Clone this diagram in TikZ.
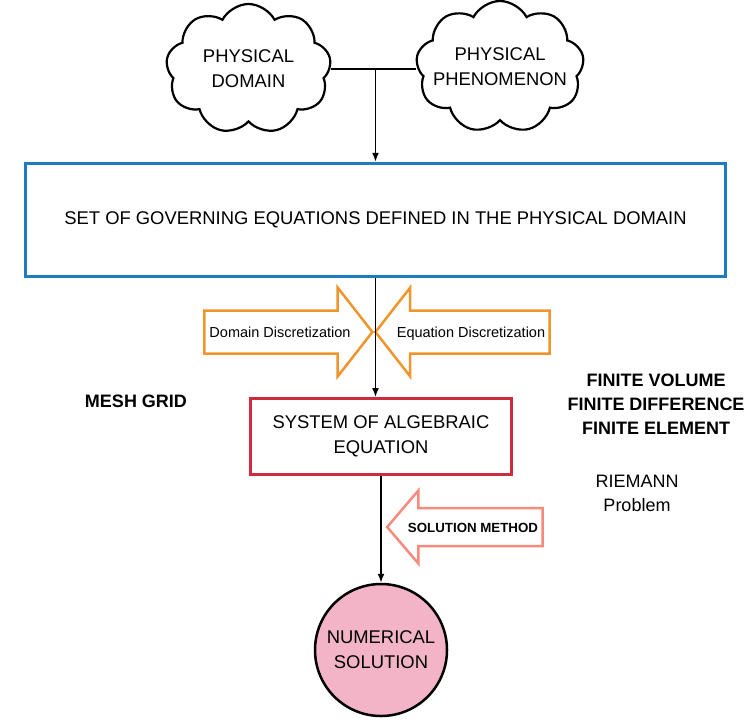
\documentclass[tikz,border=0pt]{standalone}
\usepackage{fontspec}
\setmainfont{Liberation Sans}
\usetikzlibrary{arrows.meta}
\usetikzlibrary{shapes.symbols,shapes.arrows}

\definecolor{govblue}{RGB}{31,124,192}
\definecolor{sysred}{RGB}{204,44,62}
\definecolor{discorange}{RGB}{240,148,44}
\definecolor{solpink}{RGB}{246,138,124}
\definecolor{numpink}{RGB}{243,180,199}

\begin{document}
\begin{tikzpicture}[x=1pt, y=-1pt,
  bigtext/.style={font=\fontsize{18.4}{25}\selectfont, align=center},
  idea/.style={cloud, draw, line width=2.2pt, cloud puffs=9, cloud puff arc=125, cloud ignores aspect, inner sep=0pt},
  stage/.style={draw, line width=3.5pt, bigtext},
  blockarrow/.style={single arrow, draw, line width=2.5pt, fill=white, single arrow tip angle=104, text height=10.5pt, text depth=0pt},
  flow/.style={line width=1.6pt, -{Latex[length=9pt, width=7pt]}}]
\useasboundingbox (0,0) rectangle (749,721);
\node[idea, minimum width=165pt, minimum height=130pt, label={[bigtext]center:{PHYSICAL\\DOMAIN}}] (dom) at (248.5,69) {};
\node[idea, minimum width=168pt, minimum height=132pt, label={[bigtext]center:{PHYSICAL\\PHENOMENON}}] (phen) at (500,67) {};
\node[stage, draw=govblue, minimum width=700pt, minimum height=113pt] (gov) at (375.5,220) {SET OF GOVERNING EQUATIONS DEFINED IN THE PHYSICAL DOMAIN};
\node[stage, draw=sysred, line width=3pt, minimum width=261pt, minimum height=76pt] (sys) at (381,436.5) {SYSTEM OF ALGEBRAIC\\EQUATION};
\node[circle, draw, line width=2.5pt, fill=numpink, minimum size=132pt, bigtext] (num) at (381,650) {NUMERICAL\\SOLUTION};

\node[blockarrow, draw=discorange, font=\fontsize{14.5}{17}\selectfont, inner ysep=15pt, single arrow head extend=23pt, minimum height=168pt] (ddisc) at (280,332) {Domain Discretization};
\node[blockarrow, draw=discorange, font=\fontsize{14.5}{17}\selectfont, inner ysep=15pt, single arrow head extend=23pt, minimum height=168pt, shape border rotate=180] (edisc) at (471,332) {Equation Discretization};
\node[blockarrow, draw=solpink, font=\fontsize{13.3}{15}\selectfont\bfseries, inner ysep=12.5pt, single arrow head extend=17.5pt, single arrow tip angle=99, minimum height=146pt, shape border rotate=180] (smeth) at (473,527) {SOLUTION METHOD};

\node[bigtext, font=\fontsize{18}{25}\selectfont\bfseries] (mesh) at (136,401) {MESH GRID};
\node[bigtext, font=\fontsize{18}{24}\selectfont\bfseries] (fin) at (656,404) {FINITE VOLUME\\FINITE DIFFERENCE\\FINITE ELEMENT};
\node[bigtext, font=\fontsize{18}{24}\selectfont] (riem) at (637,493) {RIEMANN\\Problem};

\coordinate (join) at (gov.north |- dom.east);
\draw[line width=1.6pt] (dom.east) -- (dom.east -| phen.west);
\draw[flow] (join) -- (gov.north);
\draw[flow] (gov.south) -- (gov.south |- sys.north);
\draw[flow] (sys.south) -- (num.north);
\end{tikzpicture}
\end{document}
